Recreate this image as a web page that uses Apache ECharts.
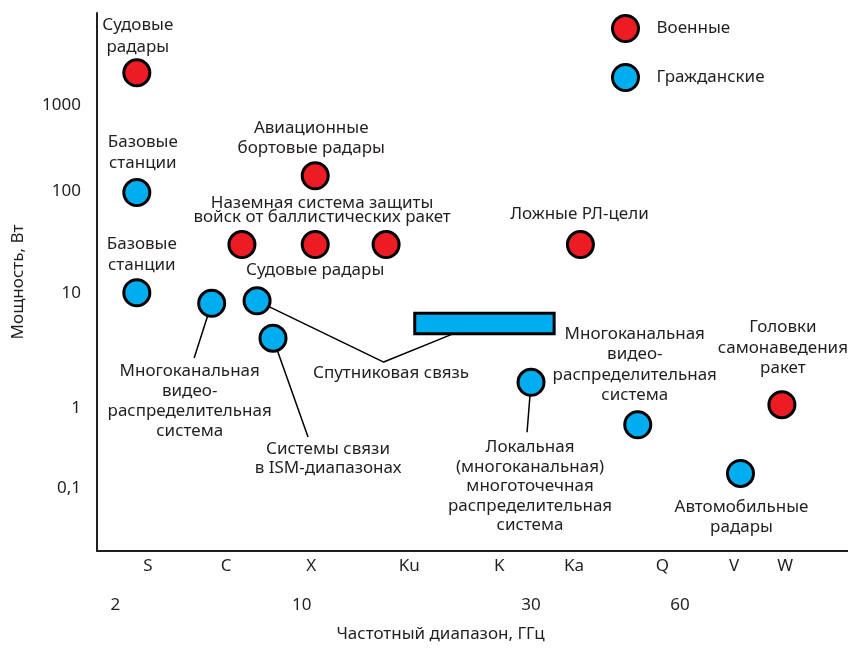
<!DOCTYPE html>
<html><head><meta charset="utf-8">
<script src="https://cdn.jsdelivr.net/npm/echarts@6/dist/echarts.min.js"></script>
<style>html,body{margin:0;padding:0;background:#fff}#chart{width:848px;height:650px}</style>
</head><body><div id="chart"></div>
<script>
// ---- axis tick labels ----
// x axis is an ordinal "band scale": S = 1 ... W = 9 (illustrative, not to scale)
const bandNames = ['S', 'C', 'X', 'Ku', 'K', 'Ka', 'Q', 'V', 'W'];
const bandPos = [1, 1.98, 3.05, 4.28, 5.41, 6.35, 7.46, 8.36, 9.0];
const freqLabels = ['2', '10', '30', '60'];
const freqPos = [0.59, 2.93, 5.81, 7.68];
// y tick labels, placed (in decades, log10 W) where the source figure prints them
const yTickLabels = ['0,1', '1', '10', '100', '1000'];
const yTickPos = [-0.944, -0.131, 1.039, 2.076, 2.950];

// ---- military systems (band position, power W) ----
const milLabels = ['Судовые\nрадары', 'Авиационные\nбортовые радары', '', 'Судовые радары',
  'Наземная система защиты\nвойск от баллистических ракет', 'Ложные РЛ-цели', 'Головки\nсамонаведения\nракет'];
const milX = [0.86, 3.10, 2.18, 3.10, 3.99, 6.43, 8.96];
const milY = [1900, 170, 34, 34, 34, 34, 0.8];

// ---- civil systems ----
const civLabels = ['Базовые\nстанции', 'Базовые\nстанции', 'Многоканальная\nвидео-\nраспределительная\nсистема',
  'Спутниковая связь', 'Системы связи\nв ISM-диапазонах',
  'Локальная\n(многоканальная)\nмноготочечная\nраспределительная\nсистема',
  'Многоканальная\nвидео-\nраспределительная\nсистема', 'Автомобильные\nрадары'];
const civX = [0.86, 0.86, 1.80, 2.37, 2.57, 5.81, 7.15, 8.44];
const civY = [115, 11, 8.6, 9.1, 3.8, 1.35, 0.5, 0.16];

// ---- satellite band (range) ----
const satX = [4.35, 6.10];
const satY = [4.2, 6.8];

// ---- leader lines (from system to its caption) ----
const leaderLeftVideo = [[1.80, 8.6], [1.58, 2.39]];
const leaderSatellite = [[2.37, 9.1], [3.96, 2.17], [4.83, 4.2]];
const leaderISM = [[2.57, 3.8], [3.01, 0.375]];
const leaderLocal = [[5.81, 1.35], [5.76, 0.42]];

// ---- styling (label offsets in px, relative to the marker centre) ----
const FONT = 'Noto Sans';
const FS = 17;
const TXT = '#231f20';
const RED = '#ED1C24';
const BLUE = '#00AEEF';
const Y_MIN = 0.026, Y_MAX = 7700;
const milLabelStyle = [
  { offset: [1, -37], lineHeight: 22 },
  { offset: [-4, -38], lineHeight: 20 },
  null,
  { offset: [0, 26], lineHeight: 20 },
  { offset: [-64, -34], lineHeight: 14 },
  { offset: [-1, -30], lineHeight: 20 },
  { offset: [1, -57], lineHeight: 20.5 }
];
const civLabelStyle = [
  { offset: [6, -40], lineHeight: 21 },
  { offset: [5, -38], lineHeight: 21 },
  { offset: [-22, 98], lineHeight: 20 },
  { offset: [134, 72], lineHeight: 20 },
  { offset: [55, 121], lineHeight: 19 },
  { offset: [-1, 104], lineHeight: 19.5 },
  { offset: [-3, -60], lineHeight: 20.5 },
  { offset: [1, 44], lineHeight: 20 }
];

function pts(xs, ys, labels, styles) {
  return xs.map((x, i) => {
    const st = styles[i];
    const item = { value: [x, ys[i]] };
    if (st && labels[i]) {
      item.label = {
        show: true, position: 'inside', formatter: labels[i],
        offset: st.offset, lineHeight: st.lineHeight,
        align: 'center', verticalAlign: 'middle',
        fontFamily: FONT, fontSize: FS, color: TXT
      };
    }
    return item;
  });
}
function pickLabel(v, vals, labels) {
  for (let i = 0; i < vals.length; i++) {
    if (Math.abs(v - vals[i]) <= 1e-6) return labels[i];
  }
  return '';
}
function leader(data) {
  return {
    type: 'line', data: data, symbol: 'none', silent: true, z: 1,
    lineStyle: { color: '#000', width: 1.5 }, xAxisIndex: 0, yAxisIndex: 0
  };
}

const chart = echarts.init(document.getElementById('chart'), null, { renderer: 'canvas' });
chart.setOption({
  animation: false,
  backgroundColor: '#fff',
  textStyle: { fontFamily: FONT },
  grid: { left: 97, right: 0, top: 13, bottom: 99, containLabel: false },
  legend: {
    data: ['Военные', 'Гражданские'], orient: 'vertical', left: 611, top: 14, padding: 0,
    icon: 'circle', itemWidth: 26, itemHeight: 26, itemGap: 20,
    itemStyle: { borderColor: '#000', borderWidth: 3 },
    textStyle: { fontFamily: FONT, fontSize: FS, color: TXT, padding: [0, 0, 0, 13] }
  },
  xAxis: [
    {
      type: 'value', min: 0.36, max: 9.79, position: 'bottom',
      axisLine: { show: true, onZero: false, lineStyle: { color: '#231f20', width: 2 } },
      axisTick: { show: false }, splitLine: { show: false },
      axisLabel: {
        customValues: bandPos, margin: 7, fontFamily: FONT, fontSize: FS, color: TXT,
        formatter: v => pickLabel(v, bandPos, bandNames)
      }
    },
    {
      type: 'value', min: 0.36, max: 9.79, position: 'bottom', offset: 39,
      axisLine: { show: false }, axisTick: { show: false }, splitLine: { show: false },
      axisLabel: {
        customValues: freqPos, margin: 7, fontFamily: FONT, fontSize: FS, color: TXT,
        formatter: v => pickLabel(v, freqPos, freqLabels)
      },
      name: 'Частотный диапазон, ГГц', nameLocation: 'middle', nameGap: 36,
      nameTextStyle: { fontFamily: FONT, fontSize: FS, color: TXT, padding: [0, 64, 0, 0] }
    }
  ],
  yAxis: [
    {
      type: 'log', logBase: 10, min: Y_MIN, max: Y_MAX,
      axisLine: { show: true, lineStyle: { color: '#231f20', width: 2 } },
      axisTick: { show: false }, splitLine: { show: false }, minorTick: { show: false },
      axisLabel: { show: false },
      name: 'Мощность, Вт', nameLocation: 'middle', nameGap: 70,
      nameTextStyle: { fontFamily: FONT, fontSize: FS, color: TXT }
    },
    {
      type: 'value', position: 'left', min: Math.log10(Y_MIN), max: Math.log10(Y_MAX),
      axisLine: { show: false }, axisTick: { show: false }, splitLine: { show: false },
      axisLabel: {
        customValues: yTickPos, margin: 16, fontFamily: FONT, fontSize: FS, color: TXT,
        formatter: v => pickLabel(v, yTickPos, yTickLabels)
      }
    }
  ],
  series: [
    leader(leaderLeftVideo), leader(leaderSatellite), leader(leaderISM), leader(leaderLocal),
    {
      type: 'custom', name: 'Спутниковая связь', z: 3, xAxisIndex: 0, yAxisIndex: 0,
      data: [[satX[0], satX[1], satY[0], satY[1]]],
      encode: { x: [0, 1], y: [2, 3] },
      renderItem: (params, api) => {
        const p1 = api.coord([api.value(0), api.value(3)]);
        const p2 = api.coord([api.value(1), api.value(2)]);
        return {
          type: 'rect',
          shape: { x: p1[0], y: p1[1], width: p2[0] - p1[0], height: p2[1] - p1[1] },
          style: { fill: BLUE, stroke: '#000', lineWidth: 3 }
        };
      }
    },
    {
      type: 'scatter', name: 'Военные', z: 4, symbol: 'circle', symbolSize: 26,
      itemStyle: { color: RED, borderColor: '#000', borderWidth: 3, opacity: 1 },
      data: pts(milX, milY, milLabels, milLabelStyle)
    },
    {
      type: 'scatter', name: 'Гражданские', z: 4, symbol: 'circle', symbolSize: 26,
      itemStyle: { color: BLUE, borderColor: '#000', borderWidth: 3, opacity: 1 },
      data: pts(civX, civY, civLabels, civLabelStyle)
    }
  ]
});
</script></body></html>
